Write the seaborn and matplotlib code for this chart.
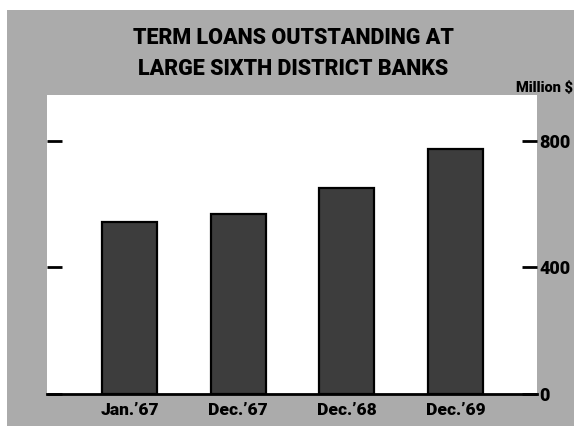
import matplotlib
matplotlib.use("Agg")
import matplotlib.pyplot as plt
from matplotlib.patches import Rectangle
import pandas as pd
import seaborn as sns

# Term loans outstanding, million dollars
periods = ["Jan.\u201967", "Dec.\u201967", "Dec.\u201968", "Dec.\u201969"]
loans = [545, 570, 650, 775]
y_ticks = [0, 400, 800]
y_tick_labels = ["0", "400", "800"]

title_lines = ["TERM LOANS OUTSTANDING AT", "LARGE SIXTH DISTRICT BANKS"]
unit_label = "Million $"

df = pd.DataFrame({"period": periods, "loans": loans})

sns.set_theme(style="white")
plt.rcParams["font.family"] = ["Roboto", "DejaVu Sans"]
plt.rcParams["font.weight"] = "heavy"
HEAVY = 900

W, H = 574, 426
fig = plt.figure(figsize=(W / 100, H / 100), dpi=100)
fig.patch.set_facecolor("white")

# gray card behind the chart, leaving a thin white border top and left
fig.patches.append(Rectangle((7 / W, 0), 1 - 7 / W, 1 - 10 / H,
                             transform=fig.transFigure, facecolor="#ababab",
                             edgecolor="none", zorder=-10))

left, right = 47 / W, 537 / W
bottom, top = (H - 394) / H, (H - 95) / H
ax = fig.add_axes([left, bottom, right - left, top - bottom])
ax.set_zorder(1)
ax.set_facecolor("white")

sns.barplot(data=df, x="period", y="loans", ax=ax, color="#3d3d3d",
            edgecolor="black", linewidth=1.6, width=0.506, saturation=1)

ax.set_xlim(-0.759, 3.749)
ax.set_ylim(0, 945)
ax.set_xlabel("")
ax.set_ylabel("")

for side in ["top", "left", "right"]:
    ax.spines[side].set_visible(False)
ax.spines["bottom"].set_color("black")
ax.spines["bottom"].set_linewidth(2)

ax.set_yticks(y_ticks)
ax.set_yticklabels(y_tick_labels)
ax.yaxis.set_ticks_position("both")
ax.tick_params(axis="y", which="both", direction="in", length=10.5, width=2,
               color="black", left=True, right=True,
               labelleft=False, labelright=True, pad=1.5,
               labelsize=13, labelcolor="black")
ax.tick_params(axis="x", length=0, pad=6, labelsize=12.5, labelcolor="black")
for lab in ax.get_xticklabels() + ax.get_yticklabels():
    lab.set_fontweight(HEAVY)

fig.text(293 / W, 1 - 37.5 / H, title_lines[0], ha="center", va="center",
         fontsize=15.5, fontweight=HEAVY, color="black")
fig.text(293 / W, 1 - 69 / H, title_lines[1], ha="center", va="center",
         fontsize=15.5, fontweight=HEAVY, color="black")
fig.text(573 / W, 1 - 88 / H, unit_label, ha="right", va="center",
         fontsize=10.5, fontweight=HEAVY, color="black")

fig.savefig("out.png", dpi=100, facecolor=fig.get_facecolor())
